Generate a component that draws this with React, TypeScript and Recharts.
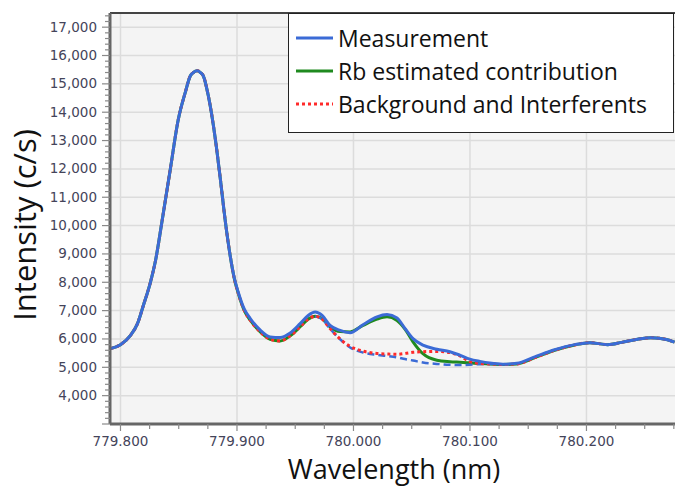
import { LineChart, Line, XAxis, YAxis, CartesianGrid, ReferenceLine, Legend } from 'recharts'

// wavelength in nm, intensities in c/s
const wavelength = [
  779.7914, 779.8, 779.8086, 779.8146, 779.8197, 779.8257, 779.83, 779.836, 779.8428, 779.8497,
  779.8557, 779.86, 779.8626, 779.866, 779.8686, 779.8711, 779.8754, 779.8814, 779.8857, 779.89,
  779.8943, 779.8977, 779.9011, 779.9063, 779.9114, 779.92, 779.9285, 779.9371, 779.9457, 779.9542,
  779.9611, 779.9671, 779.9731, 779.9799, 779.9885, 779.9971, 780.0082, 780.0202, 780.0288, 780.0374,
  780.0442, 780.0511, 780.0596, 780.0716, 780.0828, 780.0913, 780.0999, 780.1085, 780.117, 780.1282,
  780.1402, 780.1556, 780.1727, 780.1899, 780.2027, 780.2182, 780.2302, 780.2439, 780.2559, 780.2687,
  780.2756,
]

const measurement = [
  5660, 5800, 6130, 6540, 7190, 8000, 8750, 10240, 12000, 13760,
  14710, 15285, 15400, 15460, 15400, 15285, 14580, 13060, 11650, 10150,
  8900, 8150, 7650, 7050, 6720, 6310, 6070, 6050, 6210, 6540,
  6830, 6950, 6830, 6480, 6300, 6220, 6500, 6780, 6860, 6740,
  6370, 6010, 5780, 5640, 5550, 5430, 5290, 5210, 5150, 5110,
  5140, 5370, 5620, 5800, 5870, 5800, 5880, 5990, 6040, 5980,
  5890,
]

const rbContribution = [
  5660, 5800, 6130, 6540, 7190, 8000, 8750, 10240, 12000, 13760,
  14710, 15285, 15400, 15460, 15400, 15285, 14580, 13060, 11650, 10150,
  8900, 8130, 7610, 7000, 6660, 6250, 5990, 5930, 6110, 6430,
  6700, 6800, 6720, 6430, 6260, 6250, 6480, 6700, 6780, 6650,
  6350, 5900, 5480, 5250, 5200, 5180, 5160, 5130, 5120, 5100,
  5120, 5340, 5600, 5790, 5870, 5800, 5880, 5990, 6040, 5980,
  5890,
]

const background = [
  5660, 5800, 6130, 6540, 7190, 8000, 8750, 10240, 12000, 13760,
  14710, 15285, 15400, 15460, 15400, 15285, 14580, 13060, 11650, 10150,
  8900, 8130, 7610, 7000, 6660, 6250, 5990, 5930, 6110, 6430,
  6700, 6800, 6700, 6370, 6000, 5740, 5570, 5490, 5470, 5460,
  5490, 5530, 5550, 5560, 5520, 5400, 5200, 5140, 5120, 5100,
  5120, 5340, 5600, 5790, 5870, 5800, 5880, 5990, 6040, 5980,
  5890,
]

// dashed blue baseline, only where it leaves the other curves
const baseline = [
  null, null, null, null, null, null, null, null, null, null,
  null, null, null, null, null, null, null, null, null, null,
  null, null, null, null, null, null, null, null, null, null,
  null, 6800, 6700, 6360, 5990, 5700, 5520, 5440, 5400, 5350,
  5290, 5240, 5170, 5120, 5090, 5080, 5090, 5110, 5120, 5100,
  null, null, null, null, null, null, null, null, null, null,
  null,
]

const xMajorTicks = [779.8, 779.9, 780.0, 780.1, 780.2]
const xTicks = [
  779.8, 779.825, 779.85, 779.875, 779.9, 779.925, 779.95, 779.975, 780.0, 780.025,
  780.05, 780.075, 780.1, 780.125, 780.15, 780.175, 780.2, 780.225, 780.25, 780.275,
]
const yMajorTicks = [4000, 5000, 6000, 7000, 8000, 9000, 10000, 11000, 12000, 13000, 14000, 15000, 16000, 17000]
const yTicks = Array.from({ length: 73 }, (_, i) => 3000 + i * 200)

const BLUE = '#3b6bd6'
const GREEN = '#1f8a1f'
const RED = '#ff2a2a'

const data = wavelength.map((w, i) => ({
  w,
  measurement: measurement[i],
  rb: rbContribution[i],
  bg: background[i],
  base: baseline[i],
}))

const legendRows = [
  { key: 'measurement', label: 'Measurement', color: BLUE, dash: undefined },
  { key: 'rb', label: 'Rb estimated contribution', color: GREEN, dash: undefined },
  { key: 'bg', label: 'Background and Interferents', color: RED, dash: '3 3' },
]

function YTick({ x, y, payload }: any) {
  const v = payload.value
  const major = v % 1000 === 0
  return (
    <g>
      <line x1={x - (major ? 8 : 5)} x2={x} y1={y} y2={y} stroke="#8a8a8a" strokeWidth={1.2} />
      {major && v >= 4000 && (
        <text x={x - 13} y={y + 4.5} textAnchor="end" fontFamily="DejaVu Sans" fontSize={13.5} fill="#44445a">
          {v.toLocaleString('en-US')}
        </text>
      )}
    </g>
  )
}

function XTick({ x, y, payload }: any) {
  const v = payload.value
  const major = Math.abs(v * 10 - Math.round(v * 10)) < 1e-6
  return (
    <g>
      <line x1={x} x2={x} y1={y} y2={y + (major ? 7 : 5)} stroke="#8a8a8a" strokeWidth={1.2} />
      {major && (
        <text x={x} y={y + 21.5} textAnchor="middle" fontFamily="DejaVu Sans" fontSize={13.5} fill="#44445a">
          {v.toFixed(3)}
        </text>
      )}
    </g>
  )
}

function LegendBox() {
  return (
    <div
      style={{
        border: '1.5px solid #222',
        background: '#fff',
        height: 120,
        boxSizing: 'border-box',
        padding: '7px 0 0 7px',
        fontFamily: 'Open Sans',
        fontSize: 23,
        color: '#111',
      }}
    >
      {legendRows.map(r => (
        <div key={r.key} style={{ display: 'flex', alignItems: 'center', height: 33 }}>
          <svg width={37} height={6} style={{ marginRight: 5 }}>
            <line x1={0} x2={37} y1={3} y2={3} stroke={r.color} strokeWidth={3} strokeDasharray={r.dash} />
          </svg>
          <span>{r.label}</span>
        </div>
      ))}
    </div>
  )
}

export default function App() {
  return (
    <div style={{ position: 'absolute', left: 0, top: 0 }}>
      <LineChart width={675} height={487} data={data} margin={{ top: 13, right: 0, bottom: 0, left: 0 }}>
        <CartesianGrid
          fill="#f4f4f4"
          stroke="#dcdcdc"
          strokeWidth={1.5}
          horizontalValues={yMajorTicks}
          verticalValues={xMajorTicks}
        />
        <XAxis
          dataKey="w"
          type="number"
          domain={[779.791, 780.276]}
          allowDataOverflow
          ticks={xTicks}
          interval={0}
          tick={<XTick />}
          tickLine={false}
          tickSize={0}
          tickMargin={0}
          height={63}
          axisLine={{ stroke: '#666', strokeWidth: 3 }}
          label={() => (
            <text x={394} y={479} textAnchor="middle" fontFamily="Open Sans" fontSize={27} fill="#111">
              Wavelength (nm)
            </text>
          )}
        />
        <YAxis
          type="number"
          domain={[3000, 17500]}
          allowDataOverflow
          ticks={yTicks}
          interval={0}
          tick={<YTick />}
          tickLine={false}
          tickSize={0}
          tickMargin={0}
          width={110}
          axisLine={{ stroke: '#666', strokeWidth: 3 }}
          label={() => (
            <text
              transform="translate(36,225) rotate(-90)"
              textAnchor="middle"
              fontFamily="Open Sans"
              fontSize={31}
              fill="#111"
            >
              Intensity (c/s)
            </text>
          )}
        />
        <ReferenceLine y={17500} stroke="#444" strokeWidth={2} />
        <Line type="monotone" dataKey="rb" name="Rb estimated contribution" stroke={GREEN} strokeWidth={3} dot={false} isAnimationActive={false} />
        <Line type="monotone" dataKey="base" stroke={BLUE} strokeWidth={2.5} strokeDasharray="7 4" dot={false} legendType="none" isAnimationActive={false} />
        <Line type="monotone" dataKey="bg" name="Background and Interferents" stroke={RED} strokeWidth={3} strokeDasharray="3 3" dot={false} isAnimationActive={false} />
        <Line type="monotone" dataKey="measurement" name="Measurement" stroke={BLUE} strokeWidth={3} dot={false} isAnimationActive={false} />
        <Legend
          layout="vertical"
          align="center"
          verticalAlign="middle"
          content={() => <LegendBox />}
          wrapperStyle={{ left: 288, top: 13, width: 386 }}
        />
      </LineChart>
    </div>
  )
}
